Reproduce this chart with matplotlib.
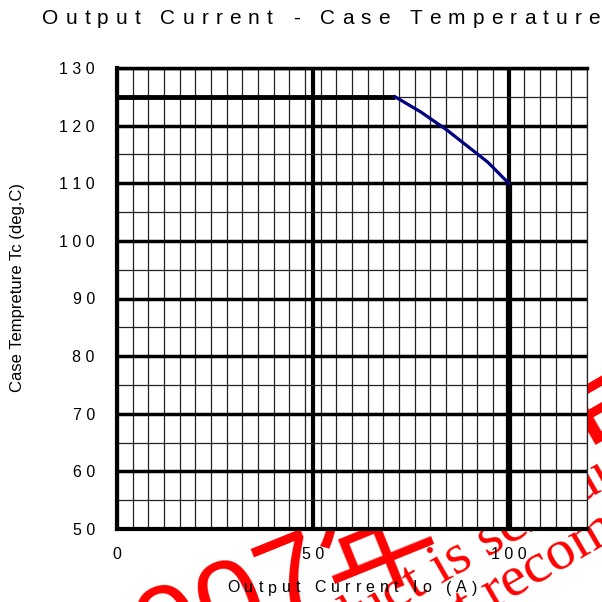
import matplotlib
matplotlib.use("Agg")
import matplotlib.pyplot as plt
from matplotlib.font_manager import FontProperties
import numpy as np

plt.rcParams['font.family'] = ['Liberation Sans', 'DejaVu Sans']

# ---- data ----
flat_x = [0, 71]
flat_y = [125, 125]
curve_x = [71, 77.5, 84.3, 94.6, 100]
curve_y = [125, 122.4, 119.2, 113.7, 110]
drop_x = [100, 100]
drop_y = [110, 50]

x_major = [0, 50, 100]
x_tick_labels = ["0", "5 0", "1 0 0"]
y_major = [50, 60, 70, 80, 90, 100, 110, 120, 130]
y_tick_labels = ["5 0", "6 0", "7 0", "8 0", "9 0", "1 0 0", "1 1 0", "1 2 0", "1 3 0"]

title = "Output Current - Case Temperature"
xlabel = "Output Current Io (A)"
ylabel = "Case Tempreture Tc (deg.C)"

W = H = 602
fig = plt.figure(figsize=(6.02, 6.02), dpi=100)
ax = fig.add_axes([117/W, 1-529/H, (587-117)/W, (529-68)/H])
ax.set_facecolor('white')

ax.set_xlim(0, 120)
ax.set_ylim(50, 130)
ax.set_xticks(x_major)
ax.set_xticklabels(x_tick_labels)
ax.set_xticks(np.arange(0, 121, 4), minor=True)
ax.set_yticks(y_major)
ax.set_yticklabels(y_tick_labels)
ax.set_yticks(np.arange(50, 131, 5), minor=True)
ax.tick_params(which='both', length=0)
ax.tick_params(axis='y', pad=16, labelsize=11.5)
ax.tick_params(axis='x', pad=13, labelsize=11.5)

ax.set_axisbelow(True)
ax.grid(which='minor', color='#222222', lw=0.9)
ax.grid(which='major', axis='y', color='black', lw=2.5)
ax.grid(which='major', axis='x', color='black', lw=3)

for s in ['left', 'bottom']:
    ax.spines[s].set_linewidth(3)
ax.spines['top'].set_linewidth(2.5)
ax.spines['right'].set_linewidth(0.9)
ax.spines['right'].set_color('#222222')

ax.plot(flat_x, flat_y, color='black', lw=3.5, solid_capstyle='butt', zorder=3)
ax.plot(curve_x, curve_y, color='#000080', lw=2.3, zorder=4)
ax.plot(drop_x, drop_y, color='black', lw=4.5, solid_capstyle='butt', zorder=3)

renderer = fig.canvas.get_renderer()


def tracked_text(s, x0, x1, yc, size):
    """Draw string s with letter spacing so it spans pixels x0..x1 at pixel row yc."""
    fp = FontProperties(family='Liberation Sans', size=size)
    base = renderer.get_text_width_height_descent('aa', fp, ismath=False)[0]
    widths = []
    for ch in s:
        if ch == ' ':
            widths.append(renderer.get_text_width_height_descent('a a', fp, ismath=False)[0] - base)
        else:
            widths.append(renderer.get_text_width_height_descent(ch, fp, ismath=False)[0])
    gap = ((x1 - x0) - sum(widths)) / (len(s) - 1)
    x = x0
    for ch, w in zip(s, widths):
        if ch != ' ':
            fig.text(x / W, 1 - yc / H, ch, ha='left', va='center', fontproperties=fp)
        x += w + gap


tracked_text(title, 42, 600, 18, 15)
tracked_text(xlabel, 227, 477, 588, 11.5)
fig.text(18/W, 1-287/H, ylabel, ha='center', va='center', rotation=90, fontsize=12)

# ---- red watermark (behind plot area) ----
fig.text(94/W, 1-699/H, "2007年", color='red', fontsize=85, rotation=22,
         family=['Liberation Sans', 'Noto Sans CJK SC'], ha='left', va='baseline', zorder=-1,
         rotation_mode='anchor')
fig.text(274/W, 1-681/H, "product is scheduled", color='red', fontsize=42,
         rotation=30, family='Liberation Serif', ha='left', va='baseline', zorder=-1,
         rotation_mode='anchor')
fig.text(416/W, 1-654/H, "not recommended", color='red', fontsize=42,
         rotation=30, family='Liberation Serif', ha='left', va='baseline', zorder=-1,
         rotation_mode='anchor')
fig.text(590/W, 1-445/H, "EOL", color='red', fontsize=60, fontweight='bold',
         rotation=30, family='Liberation Sans', ha='left', va='baseline', zorder=-1,
         rotation_mode='anchor')

fig.savefig("out.png", dpi=100)
